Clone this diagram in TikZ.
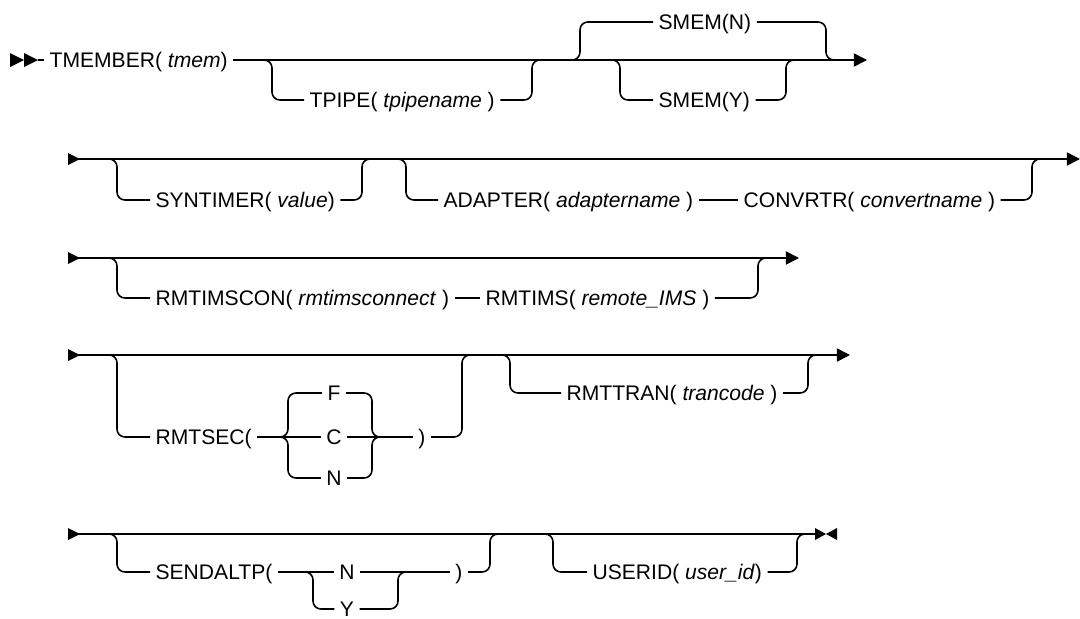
\documentclass[tikz,border=0pt]{standalone}
\usepackage{fontspec}
\setmainfont{Liberation Sans}
\usepackage{tikz}
\usetikzlibrary{arrows.meta,positioning}

\begin{document}
\begin{tikzpicture}[x=0.02cm,y=-0.02cm,>={Triangle[length=7.5pt,width=7.5pt]},
  rail/.style={line width=0.9pt},
  branch/.style={rail,rounded corners=4.5pt},
  kw/.style={anchor=west,inner xsep=3pt,inner ysep=0pt,font=\fontsize{12}{14}\selectfont,text height=11.4pt,text depth=2.8pt},
  opt/.style={kw,anchor=center}]
\useasboundingbox (0,0) rectangle (1080,619);
\clip (0,0) rectangle (1080,619);
% row 1
\fill (10,53) -- (24,60) -- (10,67) -- cycle;
\fill (24,53) -- (38,60) -- (24,67) -- cycle;
\coordinate (r1s) at (38,60);
\coordinate (r1e) at (867,60);
\coordinate (tpa) at (258,60);
\coordinate (tpb) at (532,60);
\coordinate (sna) at (566,60);
\coordinate (snb) at (826,60);
\coordinate (sya) at (606,60);
\coordinate (syb) at (786,60);
\node[kw] (tmember) at (44,60) {TMEMBER( \textit{tmem})};
\node[kw] (tpipe) at (304,100) {TPIPE( \textit{tpipename} )};
\node[kw] (smemn) at (653,22) {SMEM(N)};
\node[kw] (smemy) at (653,100) {SMEM(Y)};
\draw[rail] (r1s) -- (tmember);
\draw[rail,->] (tmember) -- (r1e);
\draw[branch] (tpa) -- ++(14,0) |- (tpipe);
\draw[branch] (tpipe) -| (tpb) -- ++(14,0);
\draw[branch] (sna) -- ++(14,0) |- (smemn);
\draw[branch] (smemn) -| (snb) -- ++(14,0);
\draw[branch] (sya) -- ++(14,0) |- (smemy);
\draw[branch] (smemy) -| (syb) -- ++(14,0);
% row 2
\fill (68,153) -- (80,159) -- (68,165) -- cycle;
\coordinate (r2s) at (68,159);
\coordinate (r2e) at (1080,159);
\coordinate (sta) at (103,159);
\coordinate (stb) at (362,159);
\coordinate (ada) at (392,159);
\coordinate (adb) at (1032,159);
\node[kw] (syntimer) at (150,200) {SYNTIMER( \textit{value})};
\node[kw] (adapter) at (438,200) {ADAPTER( \textit{adaptername} )};
\node[kw] (convrtr) at (738,200) {CONVRTR( \textit{convertname} )};
\draw[rail,->] (r2s) -- (r2e);
\draw[branch] (sta) -- ++(14,0) |- (syntimer);
\draw[branch] (syntimer) -| (stb) -- ++(14,0);
\draw[branch] (ada) -- ++(14,0) |- (adapter);
\draw[rail] (adapter) -- (convrtr);
\draw[branch] (convrtr) -| (adb) -- ++(14,0);
% row 3
\fill (68,252) -- (80,258) -- (68,264) -- cycle;
\coordinate (r3s) at (68,258);
\coordinate (r3e) at (799,258);
\coordinate (rca) at (103,258);
\coordinate (rcb) at (758,258);
\node[kw] (rmtimscon) at (150,298) {RMTIMSCON( \textit{rmtimsconnect} )};
\node[kw] (rmtims) at (480,298) {RMTIMS( \textit{remote\_IMS} )};
\draw[rail,->] (r3s) -- (r3e);
\draw[branch] (rca) -- ++(14,0) |- (rmtimscon);
\draw[rail] (rmtimscon) -- (rmtims);
\draw[branch] (rmtims) -| (rcb) -- ++(14,0);
% row 4
\fill (68,349) -- (80,355) -- (68,361) -- cycle;
\coordinate (r4s) at (68,355);
\coordinate (r4e) at (850,355);
\coordinate (rsa) at (103,355);
\coordinate (rsb) at (462,355);
\coordinate (bra) at (276,437);
\coordinate (brb) at (372,437);
\coordinate (rta) at (496,355);
\coordinate (rtb) at (808,355);
\node[kw] (rmtsec) at (150,437) {RMTSEC(};
\node[opt] (secf) at (334,393) {F};
\node[opt] (secc) at (334,437) {C};
\node[opt] (secn) at (334,478) {N};
\node[opt] (secclose) at (422,437) {)};
\node[kw] (rmttran) at (561,393) {RMTTRAN( \textit{trancode} )};
\draw[rail,->] (r4s) -- (r4e);
\draw[branch] (rsa) -- ++(14,0) |- (rmtsec);
\draw[rail] (rmtsec) -- (secc);
\draw[rail] (secc) -- (secclose);
\draw[branch] (bra) -- ++(12,0) |- (secf);
\draw[branch] (bra) -- ++(12,0) |- (secn);
\draw[branch] (secf) -| (brb) -- ++(10,0);
\draw[branch] (secn) -| (brb) -- ++(10,0);
\draw[branch] (secclose) -| (rsb) -- ++(14,0);
\draw[branch] (rta) -- ++(14,0) |- (rmttran);
\draw[branch] (rmttran) -| (rtb) -- ++(14,0);
% row 5
\fill (68,528) -- (80,534) -- (68,540) -- cycle;
\coordinate (r5s) at (68,534);
\coordinate (r5e) at (815,534);
\coordinate (saa) at (103,534);
\coordinate (sab) at (490,534);
\coordinate (ya) at (299,572);
\coordinate (yb) at (398,572);
\coordinate (uia) at (539,534);
\coordinate (uib) at (797,534);
\node[kw] (sendaltp) at (150,572) {SENDALTP(};
\node[opt] (altn) at (347,572) {N};
\node[opt] (alty) at (347,609) {Y};
\node[opt] (altclose) at (459,572) {)};
\node[kw] (userid) at (587,572) {USERID( \textit{user\_id})};
\draw[rail] (r5s) -- (r5e);
\fill (815,528) -- (826,534) -- (815,540) -- cycle;
\fill (837,528) -- (826,534) -- (837,540) -- cycle;
\draw[branch] (saa) -- ++(14,0) |- (sendaltp);
\draw[rail] (sendaltp) -- (altn);
\draw[rail] (altn) -- (altclose);
\draw[branch] (ya) -- ++(14,0) |- (alty);
\draw[branch] (alty) -| (yb) -- ++(12,0);
\draw[branch] (altclose) -| (sab) -- ++(14,0);
\draw[branch] (uia) -- ++(14,0) |- (userid);
\draw[branch] (userid) -| (uib) -- ++(14,0);
\end{tikzpicture}
\end{document}
